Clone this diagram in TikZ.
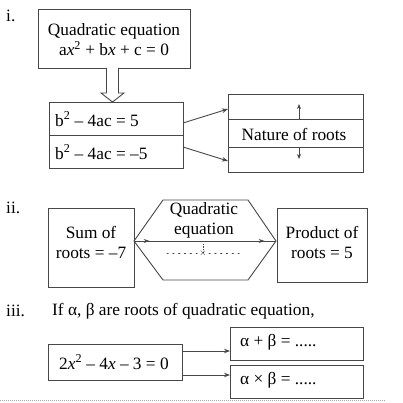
\documentclass[tikz,border=0pt]{standalone}
\usepackage{fontspec}
\setmainfont{Liberation Serif}
\usetikzlibrary{arrows.meta,calc,decorations.markings}
\begin{document}
\begin{tikzpicture}[x=1pt,y=-1pt,
  line/.style={draw=black!72,line width=0.9pt},
  box/.style={line,rectangle,inner sep=0pt,outer sep=0pt},
  txt/.style={font=\fontsize{17.3}{20}\selectfont,inner sep=0pt,align=center},
  ltxt/.style={font=\fontsize{17.3}{20}\selectfont,inner sep=0pt,anchor=west},
  arr/.style={line,-{Stealth[length=6pt,width=4.5pt]}},
  smallarr/.style={line,line width=0.7pt,-{Stealth[length=5pt,width=4pt]}}]
\useasboundingbox (0,0) rectangle (402,403);
\fill[white] (0,0) rectangle (402,403);

% ---------- part i ----------
\node[ltxt] (li) at (6,16) {i.};
\node[box,minimum width=152pt,minimum height=59pt] (q) at (114,38.5) {};
\node[txt] (qt) at (114,40) {Quadratic equation\\a\textit{x}\textsuperscript{2} + b\textit{x} + c = 0};

\coordinate (ta) at (112.5,68);
\draw[line,fill=white] ($(ta)+(-6,0)$) -- ($(ta)+(-6,25)$) -- ($(ta)+(-11.5,25)$) -- ($(ta)+(0,34)$)
  -- ($(ta)+(11.5,25)$) -- ($(ta)+(6,25)$) -- ($(ta)+(6,0)$);

\node[box,minimum width=134pt,minimum height=33pt] (d1) at (116,118.5) {};
\node[box,minimum width=134pt,minimum height=33pt] (d2) at (116,151.5) {};
\node[ltxt] (d1t) at (55,119) {b\textsuperscript{2} – 4ac = 5};
\node[ltxt] (d2t) at (55,152) {b\textsuperscript{2} – 4ac = –5};

\node[box,minimum width=135pt,minimum height=25pt] (n1) at (295.5,106.5) {};
\node[box,minimum width=135pt,minimum height=28pt] (n2) at (295.5,133) {};
\node[box,minimum width=135pt,minimum height=25pt] (n3) at (295.5,159.5) {};
\node[txt] (nt) at (294,134) {Nature of roots};
\draw[smallarr] ($(n1.south)+(3.5,0)$) -- ++(0,-15);
\draw[smallarr] ($(n3.north)+(3.5,0)$) -- ++(0,12);

\draw[arr] ($(d1.east)+(0,4.5)$) -- ($(n1.west)+(0,2.5)$);
\draw[arr] ($(d2.east)+(0,-4.5)$) -- ($(n3.west)+(0,1.5)$);

% ---------- part ii ----------
\node[ltxt] (lii) at (6,208) {ii.};
\node[box,minimum width=86pt,minimum height=79pt] (s) at (91,247.5) {};
\node[txt] (st) at (91,242.5) {Sum of\\roots = –7};
\node[box,minimum width=90pt,minimum height=74pt] (p) at (322,245) {};
\node[txt] (pt) at (322,242.5) {Product of\\roots = 5};

\coordinate (hl) at (134,241);
\coordinate (htl) at (163,200);
\coordinate (htr) at (248,200);
\coordinate (hr) at (276,241);
\coordinate (hbr) at (248,280);
\coordinate (hbl) at (163,280);
\draw[line] (hl) -- (htl) -- (htr) -- (hr) -- (hbr) -- (hbl) -- cycle;
\node[txt] (ht) at (204,220.5) {Quadratic\\equation};
\draw[line,postaction={decorate},decoration={markings,
  mark=at position 0.11 with {\arrow{Stealth[length=6pt,width=4pt]}},
  mark=at position 0.92 with {\arrow{Stealth[length=6pt,width=4pt]}}}] (hl) -- (hr);
\coordinate (hm) at (203,241);
\coordinate (hd) at (203,253);
\draw[line,line width=0.7pt,dash pattern=on 1.2pt off 1.5pt] (hm) -- (hd);
\node[font=\fontsize{9}{9}\selectfont,inner sep=0pt] (hx) at (hd) {$\times$};
\draw[line,line width=1pt,dash pattern=on 1.2pt off 4.6pt,line cap=round] (167,253) -- (199,253);
\draw[line,line width=1pt,dash pattern=on 1.2pt off 4.6pt,line cap=round] (209,253) -- (241,253);

% ---------- part iii ----------
\node[ltxt] (liii) at (6,311) {iii.};
\node[ltxt] (ht3) at (52,311) {If α, β are roots of quadratic equation,};
\node[box,minimum width=134pt,minimum height=36pt] (e) at (115,362) {};
\node[ltxt] (et) at (59,362) {2\textit{x}\textsuperscript{2} – 4\textit{x} – 3 = 0};
\node[box,minimum width=133pt,minimum height=33pt] (a1) at (296.5,343.5) {};
\node[box,minimum width=133pt,minimum height=33pt] (a2) at (296.5,381.5) {};
\node[ltxt] (a1t) at (240,342) {α + β = .....};
\node[ltxt] (a2t) at (240,380) {α × β = .....};
\draw[arr] ($(e.east)+(0,-11)$) -- ($(a1.west)+(0,7.5)$);
\draw[arr] ($(e.east)+(0,13)$) -- ($(a2.west)+(0,-6.5)$);

\draw[draw=black!35,line width=0.8pt,dash pattern=on 1pt off 1pt] (0,400) -- (385,400);
\end{tikzpicture}
\end{document}
